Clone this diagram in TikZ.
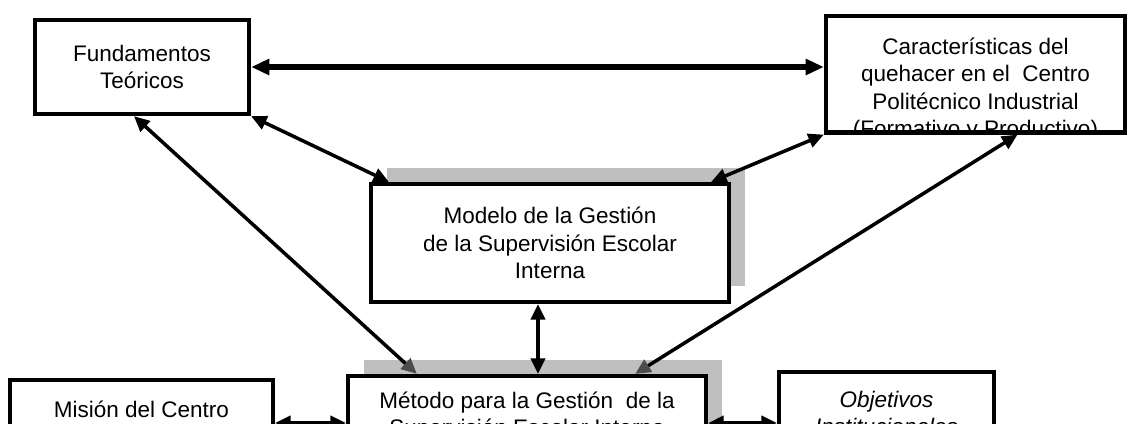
\documentclass[tikz,border=0pt]{standalone}
\usepackage{fontspec}
\setmainfont{Liberation Sans}
\usetikzlibrary{arrows.meta,shadows}
\newcommand\boxfont{\fontsize{16}{19.5}\selectfont}
\tikzset{txt/.style={align=center,font=\boxfont,inner sep=0pt}}
\tikzset{cbox/.style={draw,line width=3pt,fill=white,txt}}
\tikzset{sbox/.style={cbox,drop shadow={shadow xshift=0.4cm,shadow yshift=0.4cm,fill=black!25,opacity=1}}}
\tikzset{link/.style={line width=2.5pt,arrows={Triangle[length=11pt,width=10pt]-Triangle[length=11pt,width=10pt]}}}
\tikzset{glink/.style={line width=2.5pt,arrows={Triangle[length=11pt,width=10pt]-Triangle[length=11pt,width=10pt,color=black!70]}}}
\tikzset{wide/.style={line width=4pt,arrows={Triangle[length=13pt,width=11pt]-Triangle[length=13pt,width=11pt]}}}

\begin{document}
\begin{tikzpicture}[x=0.025cm,y=-0.025cm]
  \useasboundingbox (0,0) rectangle (1131,423);

  % upper row
  \node[cbox,minimum width=5.35cm,minimum height=2.35cm] (fund) at (142,67)
    {Fundamentos\\Teóricos};
  \begin{scope}
    \clip (826,16) rectangle (1125,132);
    \node[txt] (cartxt) at (975.5,89.5)
      {Características del\\quehacer en el~ Centro\\Politécnico Industrial\\(Formativo y Productivo)};
  \end{scope}
  \node[cbox,fill=none,minimum width=7.475cm,minimum height=2.9125cm] (car) at (975.5,74.25) {};

  % model
  \node[sbox,minimum width=8.95cm,minimum height=2.95cm] (mod) at (550,243)
    {Modelo de la Gestión\\de la Supervisión Escolar\\Interna};

  % lower row
  \node[sbox,minimum width=8.95cm,minimum height=2cm] (met) at (527,416)
    {Método para la Gestión~ de la\\Supervisión Escolar Interna};
  \node[cbox,minimum width=6.575cm,minimum height=1.45cm] (mis) at (141.5,409)
    {Misión del Centro};
  \node[cbox,minimum width=5.375cm,minimum height=2.05cm,font=\boxfont\itshape] (obj) at (886.5,413)
    {Objetivos\\Institucionales};

  \draw[wide] (fund.east) -- (fund.east -| car.west);
  \draw[link] (fund.south east) -- ([xshift=0.5cm]mod.north west);
  \draw[link] (car.south west) -- ([xshift=-0.5cm]mod.north east);
  \draw[glink] ([xshift=-0.2cm]fund.south) -- ([xshift=1.775cm]met.north west);
  \draw[glink] ([xshift=1.05cm]car.south) -- ([xshift=-1.825cm]met.north east);
  \draw[link] ([xshift=-0.3cm]mod.south) -- ([xshift=-0.3cm]mod.south |- met.north);
  \draw[link] ([yshift=-0.35cm]mis.east) -- ([yshift=-0.35cm]mis.east -| met.west);
  \draw[link] ([yshift=-0.175cm]met.east) -- ([yshift=-0.175cm]met.east -| obj.west);
\end{tikzpicture}
\end{document}
